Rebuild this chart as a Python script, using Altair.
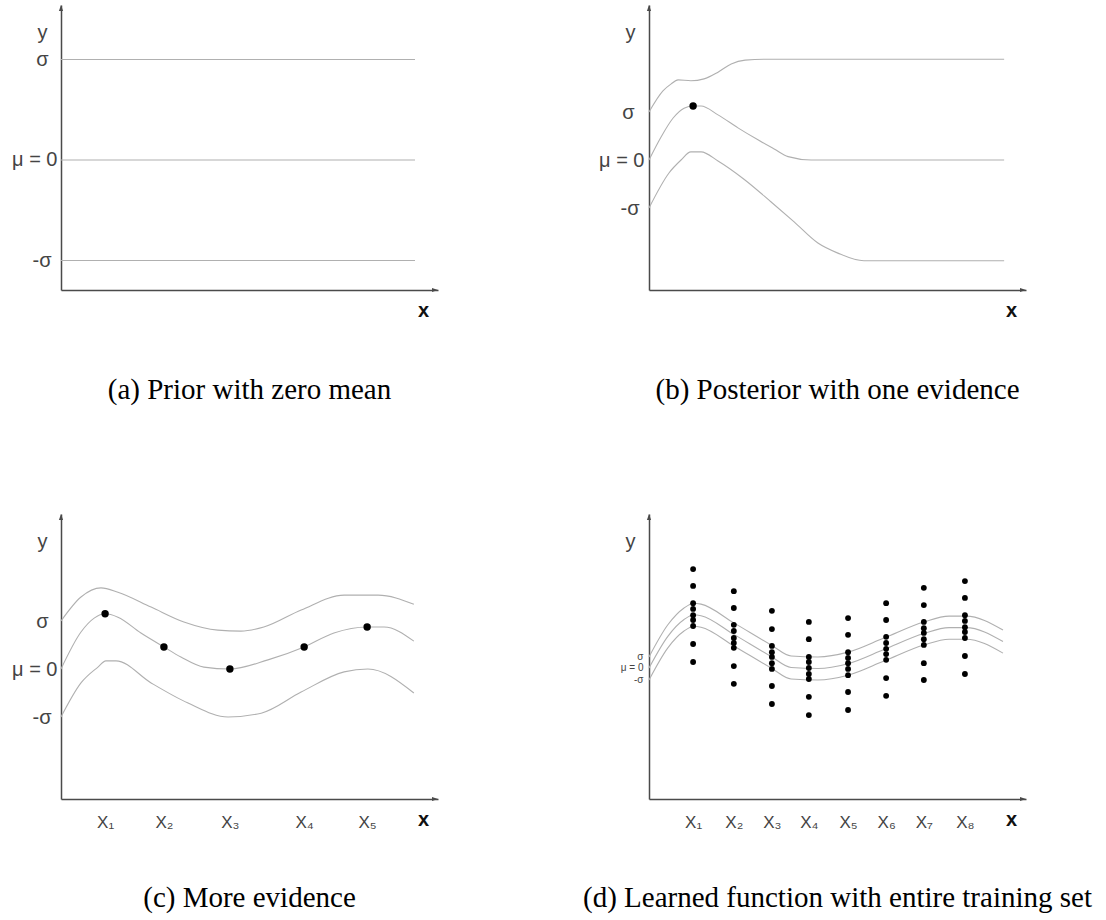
import altair as alt
import pandas as pd

# ---------------- data (x in units where the axis length is 10; y in panel units) ----------------
X_DOMAIN = [0, 10]

# (a) prior
A_Y_DOMAIN = [-1.294, 1.542]
A_CURVE_X = [0.0, 9.39]
A_UPPER_Y = [1.0, 1.0]
A_MEAN_Y = [0.0, 0.0]
A_LOWER_Y = [-1.0, -1.0]

# (b) posterior with one evidence
B_Y_DOMAIN = [-2.708, 3.229]
B_UPPER_X = [0.0, 0.37, 0.58, 0.77, 1.11, 1.46, 1.83, 2.18, 2.55, 3.05, 9.42]
B_UPPER_Y = [1.0, 1.44, 1.58, 1.67, 1.65, 1.69, 1.83, 2.0, 2.08, 2.10, 2.10]
B_MEAN_X = [0.0, 0.32, 0.64, 0.93, 1.17, 1.38, 1.83, 2.36, 2.89, 3.32, 3.69, 4.30, 9.42]
B_MEAN_Y = [0.0, 0.48, 0.875, 1.08, 1.125, 1.125, 0.94, 0.67, 0.42, 0.23, 0.07, 0.0, 0.0]
B_LOWER_X = [0.0, 0.53, 0.85, 1.11, 1.38, 1.83, 2.52, 3.24, 3.85, 4.48, 5.01, 5.70, 9.42]
B_LOWER_Y = [-1.0, -0.27, 0.0, 0.17, 0.17, -0.02, -0.40, -0.875, -1.29, -1.73, -1.94, -2.10, -2.10]
B_POINT_X = [1.17]
B_POINT_Y = [1.125]

# (c) more evidence
C_Y_DOMAIN = [-2.708, 3.229]
C_UPPER_X = [0.0, 0.53, 1.06, 1.51, 2.39, 3.26, 4.16, 4.77, 5.38, 6.37, 7.51, 8.41, 9.36]
C_UPPER_Y = [1.0, 1.5, 1.69, 1.60, 1.29, 0.98, 0.81, 0.79, 0.875, 1.23, 1.54, 1.54, 1.35]
C_MEAN_X = [0.0, 0.53, 0.88, 1.17, 1.51, 2.12, 2.73, 3.18, 3.79, 4.48, 5.49, 6.45, 7.24, 8.12, 8.57, 9.36]
C_MEAN_Y = [0.0, 0.77, 1.06, 1.15, 1.08, 0.75, 0.46, 0.25, 0.04, 0.0, 0.19, 0.46, 0.75, 0.875, 0.875, 0.58]
C_LOWER_X = [0.0, 0.53, 0.98, 1.19, 1.46, 2.39, 3.37, 4.43, 5.31, 6.37, 7.51, 8.14, 9.36]
C_LOWER_Y = [-1.0, -0.29, 0.04, 0.17, 0.17, -0.29, -0.71, -1.0, -0.92, -0.48, -0.06, 0.0, -0.5]
C_POINT_X = [1.17, 2.73, 4.48, 6.45, 8.12]
C_POINT_Y = [1.15, 0.46, 0.0, 0.46, 0.875]

# (d) learned function with entire training set
D_Y_DOMAIN = [-2.729, 3.208]
D_CURVE_X = [0.0, 0.50, 0.93, 1.19, 1.38, 2.25, 3.24, 3.77, 4.48, 5.28, 6.23, 7.29, 7.96, 8.41, 9.39]
D_UPPER_Y = [0.23, 0.90, 1.25, 1.35, 1.33, 0.94, 0.48, 0.25, 0.23, 0.33, 0.625, 0.96, 1.08, 1.08, 0.79]
D_MEAN_Y = [0.0, 0.66, 1.01, 1.11, 1.09, 0.70, 0.24, 0.01, -0.01, 0.09, 0.385, 0.72, 0.84, 0.84, 0.55]
D_LOWER_Y = [-0.25, 0.42, 0.77, 0.87, 0.85, 0.46, 0.0, -0.23, -0.25, -0.15, 0.145, 0.48, 0.60, 0.60, 0.31]
D_COL_X = [1.17, 2.25, 3.26, 4.24, 5.28, 6.29, 7.29, 8.38]
D_COL1 = [2.06, 1.71, 1.35, 1.23, 1.10, 1.0, 0.875, 0.5, 0.125]
D_COL2 = [1.60, 1.25, 0.90, 0.77, 0.625, 0.52, 0.42, 0.04, -0.33]
D_COL3 = [1.19, 0.81, 0.46, 0.33, 0.23, 0.10, -0.02, -0.375, -0.75]
D_COL4 = [0.96, 0.60, 0.23, 0.125, 0.0, -0.125, -0.23, -0.60, -0.98]
D_COL5 = [1.04, 0.69, 0.33, 0.21, 0.10, -0.02, -0.15, -0.5, -0.875]
D_COL6 = [1.35, 1.0, 0.65, 0.52, 0.40, 0.29, 0.17, -0.21, -0.58]
D_COL7 = [1.67, 1.31, 0.96, 0.83, 0.73, 0.60, 0.48, 0.10, -0.25]
D_COL8 = [1.81, 1.46, 1.10, 0.98, 0.85, 0.75, 0.625, 0.25, -0.125]

# text
Y_TICK_LABELS = ["σ", "μ = 0", "-σ"]
ABC_Y_TICKS = [1, 0, -1]
D_Y_TICKS = [0.23, 0, -0.25]
C_X_LABELS = ["X₁", "X₂", "X₃", "X₄", "X₅"]
D_X_LABELS = ["X₁", "X₂", "X₃", "X₄", "X₅", "X₆", "X₇", "X₈"]
CAPTIONS = [
    "(a) Prior with zero mean",
    "(b) Posterior with one evidence",
    "(c) More evidence",
    "(d) Learned function with entire training set",
]

# ---------------- style ----------------
AXIS_COLOR = "#4a4a4a"
CURVE_COLOR = "#b0b0b0"
TEXT_COLOR = "#444444"
SANS = "Liberation Sans"
SERIF = "Liberation Serif"
UP_ARROW = "M0,0L-0.7,2L0.7,2Z"
RIGHT_ARROW = "M0,0L-2,-0.7L-2,0.7Z"


def curves_df(curves):
    rows = []
    for name, xs, ys in curves:
        for i, (x, y) in enumerate(zip(xs, ys)):
            rows.append({"series": name, "i": i, "x": x, "y": y})
    return pd.DataFrame(rows)


def label_expr(values, labels):
    expr = "''"
    for v, lab in reversed(list(zip(values, labels))):
        expr = f"datum.value === {v} ? '{lab}' : {expr}"
    return expr


def label_padding(values, pads, default):
    conds = [
        {"test": f"datum.value === {v}", "value": p}
        for v, p in zip(values, pads) if p != default
    ]
    if not conds:
        return default
    return {"condition": conds, "value": default}


def panel(curves, points, y_domain, y_ticks, y_labels, y_label_size, y_pads, y_pad_default,
          x_ticks, x_labels, dot_size, caption, caption_offset):
    xscale = alt.Scale(domain=X_DOMAIN, nice=False, zero=False)
    yscale = alt.Scale(domain=y_domain, nice=False, zero=False)
    xaxis = alt.Axis(
        values=x_ticks, labels=bool(x_ticks), labelExpr=label_expr(x_ticks, x_labels),
        ticks=False, tickSize=0, grid=False,
        domainColor=AXIS_COLOR, domainWidth=1.5,
        labelFont=SANS, labelFontSize=17, labelColor=TEXT_COLOR,
        labelPadding=23, labelBaseline="middle", labelAlign="center",
        labelFlush=False, labelOverlap=False,
        title="x", titleX=362, titleY=20, titleFont=SANS, titleFontSize=20,
        titleFontWeight="bold", titleColor="#111111", titleAlign="center",
        titleBaseline="middle",
    )
    yaxis = alt.Axis(
        values=y_ticks, labelExpr=label_expr(y_ticks, y_labels),
        ticks=False, tickSize=0, grid=False,
        domainColor=AXIS_COLOR, domainWidth=1.5,
        labelFont=SANS, labelFontSize=y_label_size, labelColor=TEXT_COLOR,
        labelPadding=label_padding(y_ticks, y_pads, y_pad_default),
        labelBaseline="middle", labelAlign="right",
        labelFlush=False, labelOverlap=False,
        title="y", titleAngle=0, titleX=-19, titleY=27, titleFont=SANS,
        titleFontSize=20, titleFontWeight="normal", titleColor=TEXT_COLOR,
        titleAlign="center", titleBaseline="middle",
    )
    X = alt.X("x:Q", scale=xscale, axis=xaxis)
    Y = alt.Y("y:Q", scale=yscale, axis=yaxis)

    layers = [
        alt.Chart(curves_df(curves)).mark_line(
            color=CURVE_COLOR, strokeWidth=1.1, interpolate="monotone"
        ).encode(x=X, y=Y, detail="series:N", order="i:Q")
    ]
    if points is not None:
        layers.append(
            alt.Chart(points).mark_circle(color="black", size=dot_size, opacity=1)
            .encode(x=X, y=Y)
        )
    layers.append(
        alt.Chart(pd.DataFrame({"x": [X_DOMAIN[0]], "y": [y_domain[1]]}))
        .mark_point(shape=UP_ARROW, filled=True, size=36, color=AXIS_COLOR, opacity=1, strokeWidth=0)
        .encode(x=X, y=Y)
    )
    layers.append(
        alt.Chart(pd.DataFrame({"x": [X_DOMAIN[1]], "y": [y_domain[0]]}))
        .mark_point(shape=RIGHT_ARROW, filled=True, size=36, color=AXIS_COLOR, opacity=1, strokeWidth=0)
        .encode(x=X, y=Y)
    )
    return alt.layer(*layers).properties(
        width=377, height=285,
        title=alt.TitleParams(
            caption, orient="bottom", anchor="middle", frame="group",
            font=SERIF, fontSize=29, fontWeight="normal", color="black",
            offset=caption_offset, baseline="top",
        ),
    )


pa = panel(
    [("upper", A_CURVE_X, A_UPPER_Y), ("mean", A_CURVE_X, A_MEAN_Y), ("lower", A_CURVE_X, A_LOWER_Y)],
    None, A_Y_DOMAIN, ABC_Y_TICKS, Y_TICK_LABELS, 20, [13, 4, 10], 4,
    [], [], 55, CAPTIONS[0], 56,
)
pb = panel(
    [("upper", B_UPPER_X, B_UPPER_Y), ("mean", B_MEAN_X, B_MEAN_Y), ("lower", B_LOWER_X, B_LOWER_Y)],
    pd.DataFrame({"x": B_POINT_X, "y": B_POINT_Y}),
    B_Y_DOMAIN, ABC_Y_TICKS, Y_TICK_LABELS, 20, [15, 5, 10], 5,
    [], [], 55, CAPTIONS[1], 56,
)
pc = panel(
    [("upper", C_UPPER_X, C_UPPER_Y), ("mean", C_MEAN_X, C_MEAN_Y), ("lower", C_LOWER_X, C_LOWER_Y)],
    pd.DataFrame({"x": C_POINT_X, "y": C_POINT_Y}),
    C_Y_DOMAIN, ABC_Y_TICKS, Y_TICK_LABELS, 20, [13, 4, 10], 4,
    C_POINT_X, C_X_LABELS, 55, CAPTIONS[2], 54,
)
d_cols = [D_COL1, D_COL2, D_COL3, D_COL4, D_COL5, D_COL6, D_COL7, D_COL8]
d_points = pd.DataFrame(
    [{"x": cx, "y": cy} for cx, col in zip(D_COL_X, d_cols) for cy in col]
)
pd_ = panel(
    [("upper", D_CURVE_X, D_UPPER_Y), ("mean", D_CURVE_X, D_MEAN_Y), ("lower", D_CURVE_X, D_LOWER_Y)],
    d_points, D_Y_DOMAIN, D_Y_TICKS, Y_TICK_LABELS, 10, [6, 6, 6], 6,
    D_COL_X, D_X_LABELS, 34, CAPTIONS[3], 54,
)

chart = alt.concat(
    pa, pb, pc, pd_, columns=2, spacing={"row": 224, "column": 211}, bounds="flush"
).properties(
    padding={"left": 11, "top": 5, "right": 5, "bottom": 5}
).configure_view(stroke=None)

chart.save("out.html", embed_options={"renderer": "svg", "actions": False})
